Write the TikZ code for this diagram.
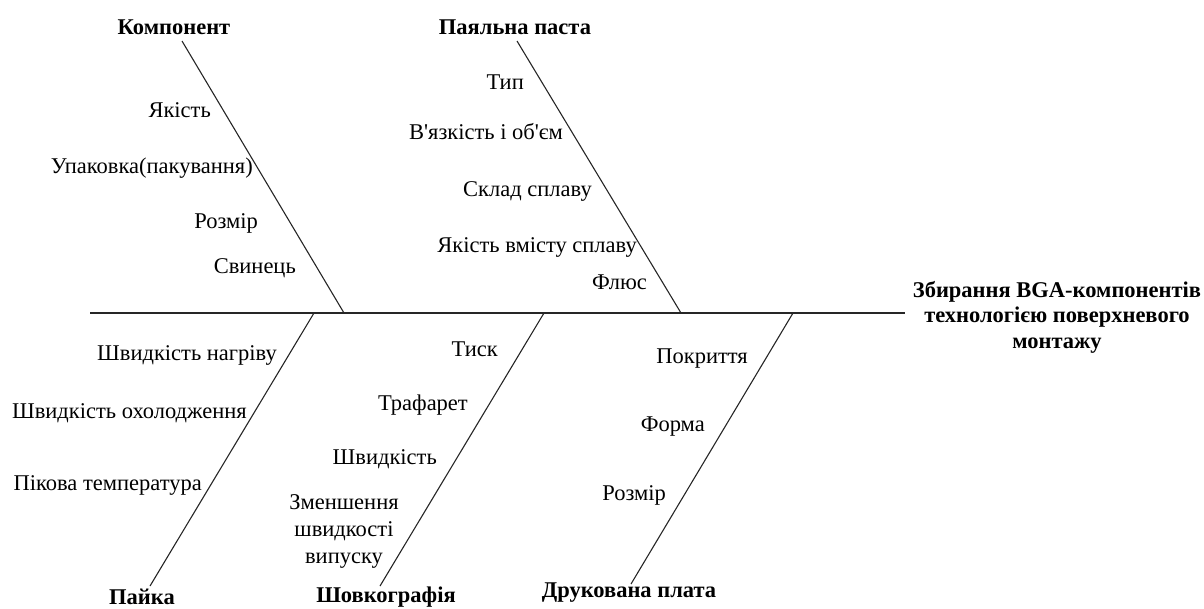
\documentclass[tikz,border=0pt]{standalone}
\usepackage{fontspec}
\setmainfont{Liberation Serif}[Ligatures=TeXOff]
\begin{document}
\begin{tikzpicture}[x=1pt,y=-1pt,
  bone/.style={line width=1.1pt,draw=black!85},
  cause/.style={font=\fontsize{22.5}{25.5}\selectfont\bfseries,inner sep=0pt,align=center},
  factor/.style={font=\fontsize{22.5}{27}\selectfont,inner sep=0pt,anchor=east,align=center}]
\useasboundingbox (0,0) rectangle (1204,608);
% spine
\coordinate (s0) at (90,313);
\coordinate (s1) at (905,313);
\node[cause] (effect) at (1057,317) {Збирання BGA-компонентів\\технологією поверхневого\\монтажу};
\draw[bone] (s0) -- (s1);
% junctions on spine
\coordinate (jK) at (344,313);
\coordinate (jP) at (681,313);
\coordinate (jA) at (314,313);
\coordinate (jS) at (544,313);
\coordinate (jD) at (793,313);
% bone ends
\coordinate (eK) at (182,41);
\coordinate (eP) at (517,41);
\coordinate (eA) at (150,586);
\coordinate (eS) at (380,586);
\coordinate (eD) at (631,584);
\draw[bone] (eK) -- (jK);
\draw[bone] (eP) -- (jP);
\draw[bone] (eA) -- (jA);
\draw[bone] (eS) -- (jS);
\draw[bone] (eD) -- (jD);
% cause labels
\node[cause] (cK) at (174,27) {Компонент};
\node[cause] (cP) at (515,27) {Паяльна паста};
\node[cause] (cA) at (142,597) {Пайка};
\node[cause] (cS) at (386,597) {Шовкографія};
\node[cause] (cD) at (629,593) {Друкована плата};
% Компонент factors
\node[factor] (k1) at (211,110) {Якість};
\node[factor] (k2) at (253,168) {Упаковка(пакування)};
\node[factor] (k3) at (258,223) {Розмір};
\node[factor] (k4) at (296,268) {Свинець};
% Паяльна паста factors
\node[factor] (p1) at (524,82) {Тип};
\node[factor] (p2) at (563,132) {В'язкість і об'єм};
\node[factor] (p3) at (592,191) {Склад сплаву};
\node[factor] (p4) at (637,247) {Якість вмісту сплаву};
\node[factor] (p5) at (647,282) {Флюс};
% Пайка factors
\node[factor] (a1) at (277,355) {Швидкість нагріву};
\node[factor] (a2) at (247,413) {Швидкість охолодження};
\node[factor] (a3) at (202,485) {Пікова температура};
% Шовкографія factors
\node[factor] (g1) at (498,349) {Тиск};
\node[factor] (g2) at (468,405) {Трафарет};
\node[factor] (g3) at (437,459) {Швидкість};
\node[factor,anchor=center] (g4) at (344,531) {Зменшення\\швидкості\\випуску};
% Друкована плата factors
\node[factor] (d1) at (748,359) {Покриття};
\node[factor] (d2) at (705,427) {Форма};
\node[factor] (d3) at (666,495) {Розмір};
\end{tikzpicture}
\end{document}
